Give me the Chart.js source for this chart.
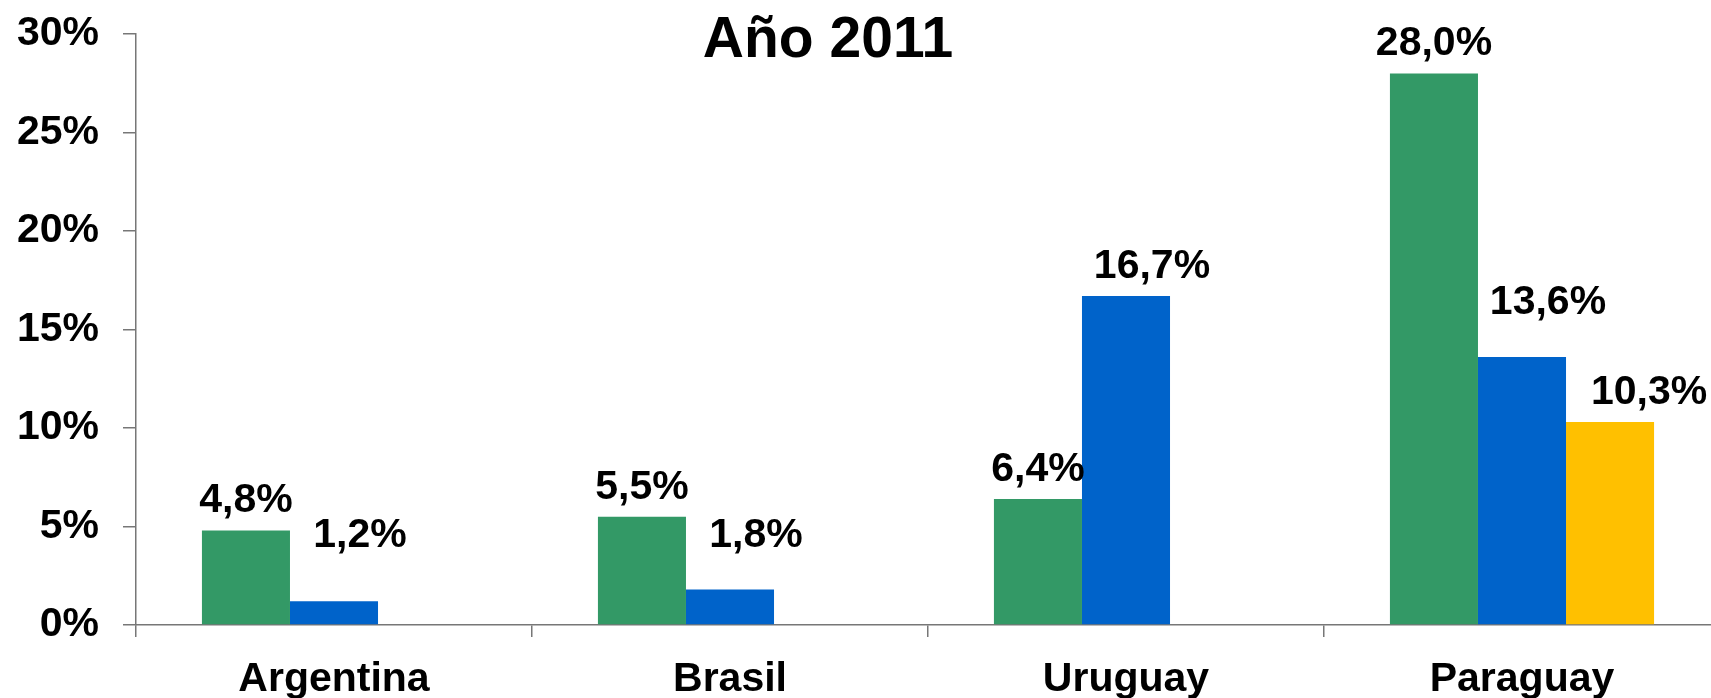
<!DOCTYPE html>
<html>
<head>
<meta charset="utf-8">
<script src="https://cdn.jsdelivr.net/npm/chart.js@4.4.1/dist/chart.umd.min.js"></script>
<style>
  html, body { margin: 0; padding: 0; background: #fff; overflow: hidden; }
  #wrap { width: 1720px; height: 698px; }
</style>
</head>
<body>
<div id="wrap"><canvas id="chart" width="1720" height="698"></canvas></div>
<script>
// datos
const paises = ['Argentina', 'Brasil', 'Uruguay', 'Paraguay'];
const serieVerde = [4.8, 5.5, 6.4, 28.0];
const serieAzul = [1.2, 1.8, 16.7, 13.6];
const serieAmarilla = [null, null, null, 10.3];
const ticksY = [0, 5, 10, 15, 20, 25, 30];
const titulo = 'Año 2011';

const FUENTE = '"Liberation Sans", Arial, sans-serif';
const GRIS = '#777777';

// desplazamiento de las etiquetas respecto al tope de cada barra (px)
const offsetsEtiquetas = [
    { dx: [0, 0, 0, 0], dy: [-18, -18, -18, -18] },
    { dx: [26, 26, 26, 26], dy: [-54, -43, -18, -43] },
    { dx: [39, 39, 39, 39], dy: [-18, -18, -18, -18] }
];

function fmt(v) {
    return v.toFixed(1).replace('.', ',') + '%';
}

const etiquetasPlugin = {
    id: 'etiquetas',
    afterDatasetsDraw(chart) {
        const ctx = chart.ctx;
        ctx.save();
        ctx.fillStyle = '#000';
        ctx.font = 'bold 41px ' + FUENTE;
        ctx.textAlign = 'center';
        ctx.textBaseline = 'alphabetic';
        chart.data.datasets.forEach((ds, i) => {
            const meta = chart.getDatasetMeta(i);
            meta.data.forEach((bar, j) => {
                const v = ds.data[j];
                if (v === null || v === undefined) return;
                const off = offsetsEtiquetas[i];
                ctx.fillText(fmt(v), bar.x + off.dx[j], bar.y + off.dy[j]);
            });
        });
        // titulo
        ctx.font = 'bold 57px ' + FUENTE;
        ctx.fillText(titulo, 828, 57);
        ctx.restore();
    }
};

new Chart(document.getElementById('chart'), {
    type: 'bar',
    data: {
        labels: paises,
        datasets: [
            { data: serieVerde, backgroundColor: '#339966' },
            { data: serieAzul, backgroundColor: '#0063CA' },
            { data: serieAmarilla, backgroundColor: '#FFC000' }
        ]
    },
    options: {
        responsive: false,
        animation: false,
        layout: { padding: { top: 34, left: 0, right: 0, bottom: 0 } },
        plugins: {
            legend: { display: false },
            tooltip: { enabled: false }
        },
        datasets: {
            bar: { categoryPercentage: 0.667, barPercentage: 1.0 }
        },
        scales: {
            x: {
                afterFit: s => { s.height = 73; s.paddingLeft = 0; s.paddingRight = 0; },
                grid: { drawOnChartArea: false, tickLength: 12, color: GRIS, lineWidth: 1.5 },
                border: { display: true, color: GRIS, width: 1.5 },
                ticks: {
                    color: '#000',
                    padding: 18,
                    font: { family: FUENTE, size: 41, weight: 'bold' }
                }
            },
            y: {
                min: 0,
                max: 30,
                afterFit: s => { s.width = 136; s.paddingTop = 0; s.paddingBottom = 0; },
                afterBuildTicks: s => { s.ticks = ticksY.map(v => ({ value: v })); },
                grid: { drawOnChartArea: false, tickLength: 13, color: GRIS, lineWidth: 1.5 },
                border: { display: true, color: GRIS, width: 1.5 },
                ticks: {
                    color: '#000',
                    padding: 24,
                    font: { family: FUENTE, size: 41, weight: 'bold' },
                    callback: v => v + '%'
                }
            }
        }
    },
    plugins: [etiquetasPlugin]
});
</script>
</body>
</html>
